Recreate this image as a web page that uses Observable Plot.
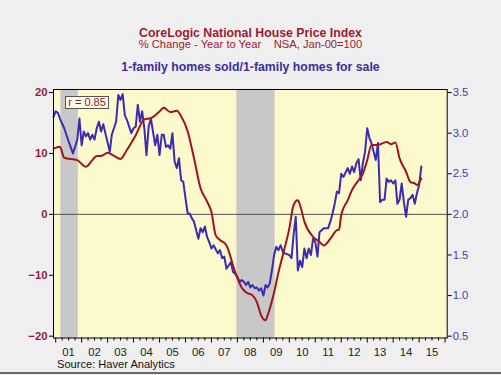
<!DOCTYPE html>
<html><head><meta charset="utf-8">
<script src="https://cdn.jsdelivr.net/npm/d3@7"></script>
<script src="https://cdn.jsdelivr.net/npm/@observablehq/plot@0.6"></script>
<style>
body{margin:0;background:#efefef;font-family:"Liberation Sans",Arial,sans-serif;}
#wrap{position:relative;width:501px;height:375px;overflow:hidden;background:#efefef;}
#wrap svg{position:absolute;left:0;top:0;}
.t{position:absolute;left:0;width:501px;text-align:center;white-space:pre;}
#t1{top:26.5px;font-size:12.3px;line-height:12px;font-weight:bold;color:#9e1a30;}
#t2{top:39px;font-size:11.2px;line-height:11px;color:#9e1a30;}
#t3{top:60px;font-size:12.3px;line-height:14px;font-weight:bold;color:#3c2e9c;}
#rbox{position:absolute;left:65px;top:95.5px;width:44px;height:13.5px;box-sizing:border-box;border:1px solid #555;background:#fdfbe4;color:#8e1a2c;font-size:11px;line-height:11.5px;text-align:center;z-index:2;}
#src{position:absolute;left:57px;top:358.5px;font-size:11.1px;line-height:10px;color:#111;}
#bline{position:absolute;left:0;top:372px;width:501px;height:2px;background:#6a6a6a;}
</style></head><body><div id="wrap">
<div class="t" id="t1">CoreLogic National House Price Index</div>
<div class="t" id="t2">% Change - Year to Year    NSA, Jan-00=100</div>
<div class="t" id="t3">1-family homes sold/1-family homes for sale</div>
<div id="rbox">r = 0.85</div>
<div id="src">Source: Haver Analytics</div>
<div id="bline"></div>
</div>
<script>
// CoreLogic HPI, % change year to year (left axis)
const hpiDates = ["2000-12","2001-03","2001-05","2001-11","2002-03","2002-06","2002-08","2002-10","2003-01","2003-04","2003-07","2003-10","2004-02","2004-06","2004-09","2005-01","2005-03","2005-06","2005-09","2005-11","2006-02","2006-05","2006-08","2006-11","2007-01","2007-03","2007-05","2007-08","2007-12","2008-03","2008-05","2008-08","2008-10","2008-12","2009-02","2009-03","2009-06","2009-08","2009-10","2010-01","2010-03","2010-05","2010-06","2010-08","2010-12","2011-03","2011-05","2011-08","2011-11","2011-12","2012-01","2012-04","2012-06","2012-09","2012-11","2013-01","2013-03","2013-06","2013-10","2013-12","2014-02","2014-04","2014-07","2014-09","2014-11","2014-12","2015-02"];
const hpiValues = [10.8,11.1,9.3,8.9,7.8,8.9,9.6,9.6,10.1,9.6,9.1,10.6,13.0,15.6,15.8,16.9,17.5,16.8,17.0,16.1,13.6,9.2,4.3,2.1,0.4,-3.4,-4.2,-5.1,-9.5,-12.0,-12.8,-13.3,-14.4,-16.6,-17.4,-16.6,-12.8,-9.5,-6.7,-2.3,1.5,2.3,1.5,-1.2,-3.7,-4.5,-5.1,-4.0,-2.6,-2.5,-0.1,2.3,4.0,5.6,6.7,8.9,11.4,11.4,11.9,11.5,11.8,9.2,7.0,5.3,5.1,4.8,5.9];

// 1-family homes sold / 1-family homes for sale (right axis)
const ratioDates = [
"2000-12","2001-01","2001-02","2001-03","2001-05","2001-07","2001-09","2001-11","2001-12",
"2002-01","2002-02","2002-03","2002-04","2002-05","2002-06","2002-07","2002-08","2002-09","2002-10","2002-11","2002-12",
"2003-02","2003-03","2003-05","2003-06","2003-07","2003-08","2003-09","2003-10","2003-12",
"2004-01","2004-02","2004-03","2004-04","2004-05","2004-06","2004-07","2004-08","2004-09","2004-11","2004-12",
"2005-01","2005-02","2005-03","2005-04","2005-05","2005-06","2005-07","2005-08","2005-09","2005-10","2005-11","2005-12",
"2006-01","2006-02","2006-03","2006-04","2006-05","2006-07","2006-08","2006-09","2006-10","2006-11","2006-12",
"2007-01","2007-02","2007-04","2007-05","2007-06","2007-07","2007-08","2007-10","2007-11","2007-12",
"2008-01","2008-02","2008-03","2008-04","2008-05","2008-06","2008-07","2008-08","2008-09","2008-10","2008-11","2008-12",
"2009-01","2009-02","2009-03","2009-04","2009-05","2009-06","2009-07","2009-08","2009-09","2009-10","2009-11",
"2010-01","2010-02","2010-03","2010-04","2010-05","2010-06","2010-07","2010-08","2010-09","2010-10","2010-11","2010-12",
"2011-01","2011-02","2011-03","2011-05","2011-07","2011-08","2011-09","2011-10","2011-11","2011-12",
"2012-01","2012-02","2012-04","2012-05","2012-06","2012-07","2012-08","2012-09","2012-10","2012-11","2012-12",
"2013-01","2013-02","2013-03","2013-04","2013-05","2013-06","2013-07","2013-08","2013-09","2013-10","2013-11","2013-12",
"2014-01","2014-02","2014-03","2014-04","2014-05","2014-06","2014-07","2014-08","2014-09","2014-10","2014-11","2014-12",
"2015-01","2015-02"];
const ratioValues = [
3.20,3.27,3.25,3.18,3.06,2.90,2.75,2.92,3.18,
2.85,3.02,2.96,3.00,2.92,2.98,2.92,3.06,3.14,3.02,3.11,3.00,
2.77,2.98,3.14,3.47,3.41,3.48,3.22,3.16,3.00,
3.06,3.08,3.35,3.14,3.27,3.06,2.73,3.08,3.18,2.85,2.98,
2.73,2.98,2.98,2.83,2.85,2.81,3.00,2.65,2.57,2.69,2.42,2.40,
2.20,2.01,2.01,1.95,1.91,1.70,1.83,1.78,1.85,1.72,1.66,
1.58,1.62,1.52,1.56,1.46,1.48,1.33,1.41,1.29,1.27,
1.23,1.17,1.19,1.17,1.13,1.17,1.10,1.13,1.09,1.10,1.06,1.09,
1.00,1.13,1.10,1.15,1.31,1.50,1.60,1.56,1.62,1.54,1.52,
1.50,1.46,1.74,1.97,1.31,1.43,1.35,1.58,1.46,1.58,1.50,1.70,
1.66,1.48,1.78,1.83,1.83,1.91,2.01,2.13,2.28,2.26,
2.50,2.46,2.57,2.50,2.59,2.52,2.63,2.68,2.42,2.63,2.77,
3.06,2.94,2.88,2.77,2.67,2.88,2.15,2.18,2.18,2.44,2.40,2.42,
2.38,2.42,2.13,2.18,2.38,2.15,1.97,2.18,2.20,2.24,2.13,2.26,
2.36,2.59];

// Recessions (shaded)
const recessionStart = ["2001-03-15","2007-12-25"];
const recessionEnd = ["2001-11-15","2009-06-15"];

// Axis ticks
const leftTicks = [-20,-10,0,10,20];
const rightTicks = [0.5,1.0,1.5,2.0,2.5,3.0,3.5];
const yearLabels = d3.range(2001,2016);

const pm = d3.utcParse("%Y-%m");
const pd = d3.utcParse("%Y-%m-%d");
const hpi = hpiDates.map((d,i)=>({date:pm(d), value:hpiValues[i]}));
const ratio = ratioDates.map((d,i)=>({date:pm(d), value:ratioValues[i]}));
const rec = recessionStart.map((s,i)=>({start:pd(s), end:pd(recessionEnd[i])}));
// right axis: ratio = 2 + 0.075 * left
const toLeft = r => (r - 2) / 0.075;
const fromLeft = v => 2 + v * 0.075;

const yearTicks = d3.range(2001,2017).map(y=>new Date(Date.UTC(y,0,1)));
const quarterTicks = d3.utcMonths(new Date(Date.UTC(2001,0,1)), new Date(Date.UTC(2016,0,2)), 3).filter(d=>d.getUTCMonth()!==0);
const labelPos = yearLabels.map(y=>new Date(Date.UTC(y,6,1)));

const chart = Plot.plot({
  width:501, height:375,
  marginTop:89, marginBottom:37.5, marginLeft:53, marginRight:54.3,
  style:{background:"transparent", fontFamily:"'Liberation Sans', Arial, sans-serif", fontSize:"11.3px", color:"#000", overflow:"visible"},
  x:{type:"utc", domain:[new Date(Date.UTC(2000,11,1)), new Date(Date.UTC(2016,0,31))]},
  y:{domain:[-20.3,20.5]},
  marks:[
    Plot.frame({fill:"#fcf9cc", stroke:null}),
    Plot.rect(rec,{x1:"start", x2:"end", fill:"#c8c8c8"}),
    Plot.ruleY([0],{stroke:"#505050", strokeWidth:1}),
    Plot.line(ratio,{x:"date", y:d=>toLeft(d.value), stroke:"#3b2bb0", strokeWidth:2, strokeLinejoin:"round"}),
    Plot.line(hpi,{x:"date", y:"value", stroke:"#a01420", strokeWidth:2, curve:"monotone-x"}),
    Plot.frame({stroke:"#000", strokeWidth:1}),
    Plot.axisY(leftTicks,{anchor:"left", tickSize:4, tickPadding:2, label:null, stroke:"#000", fill:"#8e1f3f", fontWeight:"bold"}),
    Plot.axisY(rightTicks.map(toLeft),{anchor:"right", tickSize:4, tickPadding:1.5, label:null, stroke:"#000", fill:"#4b3c9e", tickFormat:d=>d3.format(".1f")(fromLeft(d))}),
    Plot.axisX(yearTicks,{anchor:"bottom", tickSize:5, tickFormat:()=>"", label:null, stroke:"#000"}),
    Plot.axisX(quarterTicks,{anchor:"bottom", tickSize:3, tickFormat:()=>"", label:null, stroke:"#000"}),
    Plot.axisX(labelPos,{anchor:"bottom", tickSize:0, tickPadding:10, tickFormat:d3.utcFormat("%y"), label:null, fill:"#222"})
  ]
});
document.getElementById("wrap").appendChild(chart);
</script>
</body></html>
